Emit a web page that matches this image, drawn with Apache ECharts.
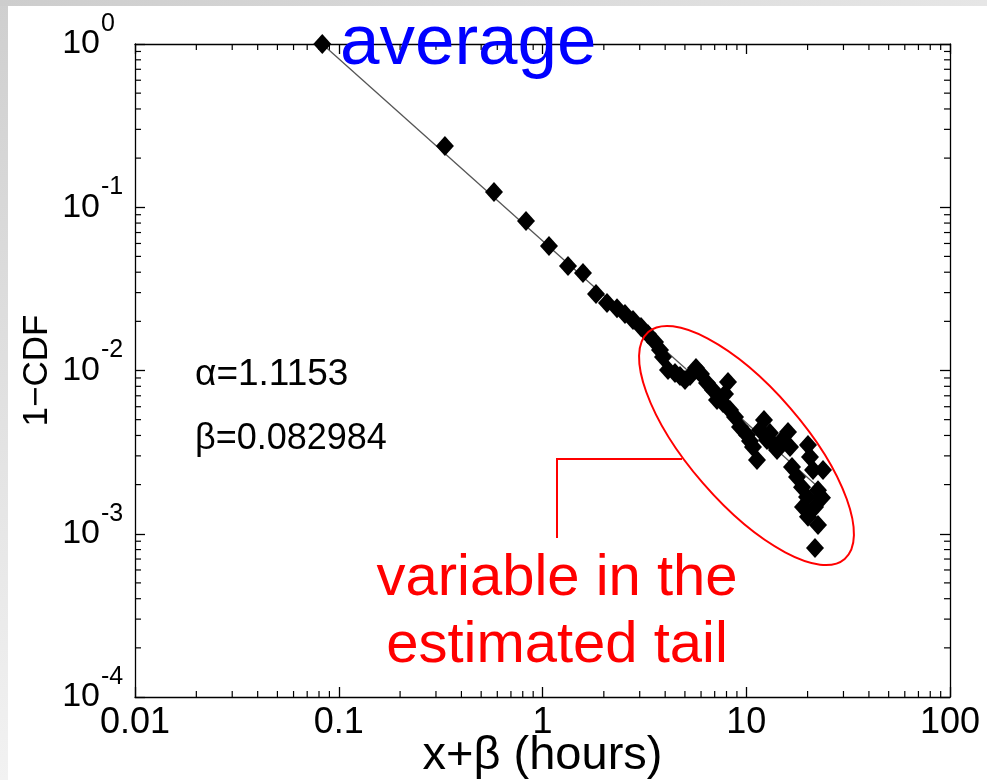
<!DOCTYPE html>
<html>
<head>
<meta charset="utf-8">
<script src="https://cdn.jsdelivr.net/npm/echarts@6/dist/echarts.min.js"></script>
<style>
html,body{margin:0;padding:0;background:#ffffff;}
#chart{width:987px;height:780px;}
</style>
</head>
<body>
<div id="chart"></div>
<script>
// ---- data ----
const xTickLabels = ['0.01', '0.1', '1', '10', '100'];
const yTickBase = '10';
const yTickExponents = ['0', '-1', '-2', '-3', '-4'];
const xName = 'x+\u03B2 (hours)';
const yName = '1\u2212CDF';

const pointsX = [0.083, 0.332, 0.578, 0.830, 1.076, 1.334, 1.580, 1.831, 2.073, 2.321,
  2.540, 2.781, 3.044, 3.295, 3.566, 3.773, 3.903, 4.130, 4.470, 4.730,
  5.005, 5.297, 5.667, 5.996, 6.419, 6.867, 7.185, 7.690, 7.866, 8.137,
  8.322, 8.807, 9.318, 10.09, 10.43, 10.79, 11.29, 11.68, 12.22, 12.64,
  13.08, 13.69, 14.16, 14.98, 16.03, 16.40, 16.77, 17.75, 18.78, 18.99,
  19.87, 20.09, 20.55, 20.09, 21.27, 21.75, 22.50, 22.50, 23.54, 23.81, 21.75];
const pointsY = [1, 0.2372, 0.1240, 0.0824, 0.0579, 0.0437, 0.0396, 0.0294, 0.0259, 0.0241,
  0.0222, 0.0204, 0.0185, 0.0167, 0.01495, 0.01335, 0.01210, 0.01007, 0.00965, 0.00925,
  0.00874, 0.00925, 0.01036, 0.00952, 0.00838, 0.00760, 0.00660, 0.00632, 0.00718, 0.00850,
  0.00573, 0.00519, 0.00451, 0.00403, 0.00370, 0.00340, 0.00283, 0.00432, 0.00497, 0.00375,
  0.00414, 0.00350, 0.00326, 0.00375, 0.00420, 0.00340, 0.00256, 0.00223, 0.00193, 0.00146,
  0.00168, 0.00350, 0.00295, 0.00127, 0.00246, 0.00146, 0.00185, 0.00113, 0.00166, 0.00246, 0.000818];

const fitX = [0.083, 24];
const fitY = [1, 0.0018];

const alphaText = '\u03B1=1.1153';
const betaText = '\u03B2=0.082984';
const titleText = 'average';
const noteLines = ['variable in the', 'estimated tail'];

const minorMultipliers = [2, 3, 4, 5, 6, 7, 8, 9];
const xDecades = [0.01, 0.1, 1, 10];
const yDecades = [0.0001, 0.001, 0.01, 0.1];

// ---- build ----
const FONT = '"Liberation Sans", Arial, Helvetica, sans-serif';
const scatterData = pointsX.map((x, i) => [x, pointsY[i]]);
const fitData = fitX.map((x, i) => [x, fitY[i]]);
const xMinor = [];
xDecades.forEach(d => minorMultipliers.forEach(m => xMinor.push([+(d * m).toPrecision(3), 0.5])));
const yMinor = [];
yDecades.forEach(d => minorMultipliers.forEach(m => yMinor.push([1, +(d * m).toPrecision(3)])));

const chart = echarts.init(document.getElementById('chart'), null, {renderer: 'canvas'});

const axisLine = {show: true, onZero: false, lineStyle: {color: '#000', width: 1.3}};
const axisTick = {show: true, inside: true, length: 10, lineStyle: {color: '#000', width: 1.3}};
const MINOR = 6;

function minorX(params, api) {
  const cs = params.coordSys;
  const p = api.coord([api.value(0), api.value(1)]);
  const b = cs.y + cs.height, t = cs.y;
  return {type: 'group', children: [
    {type: 'line', shape: {x1: p[0], y1: b, x2: p[0], y2: b - MINOR}, style: {stroke: '#000', lineWidth: 1.2}},
    {type: 'line', shape: {x1: p[0], y1: t, x2: p[0], y2: t + MINOR}, style: {stroke: '#000', lineWidth: 1.2}}
  ]};
}
function minorY(params, api) {
  const cs = params.coordSys;
  const p = api.coord([api.value(0), api.value(1)]);
  const l = cs.x, r = cs.x + cs.width;
  return {type: 'group', children: [
    {type: 'line', shape: {x1: l, y1: p[1], x2: l + MINOR, y2: p[1]}, style: {stroke: '#000', lineWidth: 1.2}},
    {type: 'line', shape: {x1: r, y1: p[1], x2: r - MINOR, y2: p[1]}, style: {stroke: '#000', lineWidth: 1.2}}
  ]};
}

// text placed by baseline: zrender 'top' alignment puts baseline ~0.817*size below y
function textAt(str, x, baseline, size, color, align) {
  return {type: 'text', x: x, y: baseline - 0.817 * size, z: 10,
    style: {text: str, fill: color, font: size + 'px ' + FONT, align: align, verticalAlign: 'top'}};
}

const option = {
  backgroundColor: '#ffffff',
  animation: false,
  textStyle: {fontFamily: FONT},
  grid: {left: 135, right: 37, top: 44, bottom: 83, containLabel: false, outerBoundsMode: 'none'},
  xAxis: [{
    type: 'log', logBase: 10, min: 0.01, max: 100, position: 'bottom',
    axisLine: axisLine, axisTick: axisTick, splitLine: {show: false},
    axisLabel: {
      color: '#000', fontSize: 36, fontFamily: FONT, margin: 8,
      formatter: v => xTickLabels[Math.round(Math.log10(v)) + 2]
    },
    name: xName, nameLocation: 'middle', nameGap: 36, nameMoveOverlap: false,
    nameTextStyle: {color: '#000', fontSize: 47, fontFamily: FONT, verticalAlign: 'top'}
  }, {
    type: 'log', logBase: 10, min: 0.01, max: 100, position: 'top',
    axisLine: axisLine, axisTick: axisTick, splitLine: {show: false},
    axisLabel: {show: false}
  }],
  yAxis: [{
    type: 'log', logBase: 10, min: 0.0001, max: 1, position: 'left',
    axisLine: axisLine, axisTick: axisTick, splitLine: {show: false},
    axisLabel: {
      margin: 35, color: '#000', fontSize: 34, fontFamily: FONT,
      formatter: () => yTickBase
    },
    name: yName, nameLocation: 'middle', nameGap: 80, nameRotate: 90, nameMoveOverlap: false,
    nameTextStyle: {color: '#000', fontSize: 35, fontFamily: FONT}
  }, {
    type: 'log', logBase: 10, min: 0.0001, max: 1, position: 'right',
    axisLine: axisLine, axisTick: axisTick, splitLine: {show: false},
    axisLabel: {show: false}
  }, {
    type: 'log', logBase: 10, min: 0.0001, max: 1, position: 'left', offset: 0,
    axisLine: {show: false}, axisTick: {show: false}, splitLine: {show: false},
    axisLabel: {
      margin: 34, align: 'left', color: '#000', fontSize: 25, fontFamily: FONT, lineHeight: 40,
      formatter: v => yTickExponents[-Math.round(Math.log10(v))] + '\n '
    }
  }],
  series: [
    {type: 'custom', xAxisIndex: 0, yAxisIndex: 0, renderItem: minorX, data: xMinor, silent: true, clip: false, z: 1},
    {type: 'custom', xAxisIndex: 0, yAxisIndex: 0, renderItem: minorY, data: yMinor, silent: true, clip: false, z: 1},
    {type: 'line', xAxisIndex: 0, yAxisIndex: 0, data: fitData, symbol: 'none',
      lineStyle: {color: '#555', width: 1.3}, z: 2, silent: true},
    {type: 'scatter', xAxisIndex: 0, yAxisIndex: 0, data: scatterData, symbol: 'diamond',
      symbolSize: [18, 20], itemStyle: {color: '#000', opacity: 1}, z: 3, silent: true}
  ],
  graphic: [
    {type: 'rect', left: 0, top: 0, z: -10, shape: {width: 8, height: 780},
      style: {fill: new echarts.graphic.LinearGradient(0, 0, 0, 1, [{offset: 0, color: '#cfcfcf'}, {offset: 1, color: '#f2f2f2'}])}},
    {type: 'rect', left: 0, top: 0, z: -10, shape: {width: 987, height: 6},
      style: {fill: new echarts.graphic.LinearGradient(0, 0, 1, 0, [{offset: 0, color: '#cdcdcd'}, {offset: 1, color: '#e6e6e6'}])}},
    textAt(titleText, 340, 67, 71, '#0000ff', 'left'),
    textAt(alphaText, 195, 387, 37, '#000', 'left'),
    textAt(betaText, 195, 450, 36, '#000', 'left'),
    textAt(noteLines[0], 557, 597, 58, '#ff0000', 'center'),
    textAt(noteLines[1], 557, 664, 58, '#ff0000', 'center'),
    {type: 'polyline', z: 10, shape: {points: [[557, 538], [557, 459], [682, 459]]},
      style: {stroke: '#ff0000', lineWidth: 2, fill: null}},
    {type: 'ellipse', z: 10, x: 746.5, y: 445.5, rotation: -0.857,
      shape: {cx: 0, cy: 0, rx: 150, ry: 57.6},
      style: {stroke: '#ff0000', lineWidth: 2, fill: null}}
  ]
};
chart.setOption(option);
</script>
</body>
</html>
